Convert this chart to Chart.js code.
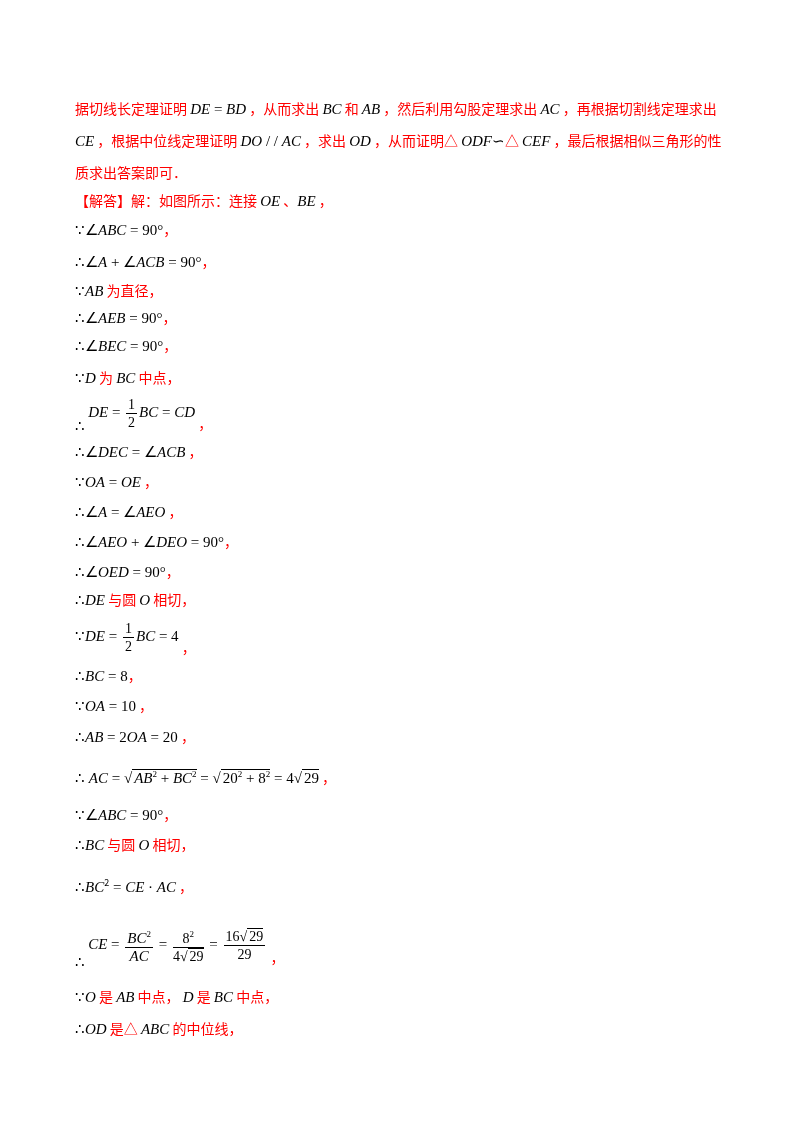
<!DOCTYPE html>
<html><head><meta charset="utf-8">
<script src="https://cdn.jsdelivr.net/npm/chart.js@4"></script>
<style>
body{margin:0;width:800px;height:1132px;background:#fff;position:relative;font-family:"Noto Sans CJK SC";font-size:14px;color:#f00;}
#c{position:absolute;left:0;top:0;}
.l{position:absolute;left:75px;white-space:nowrap;line-height:20px;}
i,.m{font-family:"Liberation Serif";color:#000;font-size:15px;}
i{font-style:italic}
.m{font-style:normal}
.fr{display:inline-block;vertical-align:middle;text-align:center;font-family:"Liberation Serif";color:#000;font-size:14px;line-height:17px;margin:0 2px}
.fr>span{display:block}
.fr>.n{border-bottom:1px solid #000;padding:0 2px}
sup{font-size:9px}
.sq{border-top:1px solid #000;padding-left:2px}
</style></head><body>
<canvas id="c" width="800" height="1132"></canvas>
<div class="l" style="top:98px">据切线长定理证明 <i>DE</i><span class="m"> = </span><i>BD</i> ，从而求出 <i>BC</i> 和 <i>AB</i> ，然后利用勾股定理求出 <i>AC</i> ，再根据切割线定理求出</div>
<div class="l" style="top:130px"><i>CE</i> ，根据中位线定理证明 <i>DO</i><span class="m"> / / </span><i>AC</i> ，求出 <i>OD</i> ，从而证明△ <i>ODF</i><span class="m">∽</span>△ <i>CEF</i> ，最后根据相似三角形的性</div>
<div class="l" style="top:162px">质求出答案即可．</div>
<div class="l" style="top:190px">【解答】解：如图所示：连接 <i>OE</i> 、<i>BE</i> ，</div>
<div class="l" style="top:219px"><span class="m">∵∠</span><i>ABC</i><span class="m"> = 90°</span>，</div>
<div class="l" style="top:251px"><span class="m">∴∠</span><i>A</i><span class="m"> + ∠</span><i>ACB</i><span class="m"> = 90°</span>，</div>
<div class="l" style="top:280px"><span class="m">∵</span><i>AB</i> 为直径，</div>
<div class="l" style="top:307px"><span class="m">∴∠</span><i>AEB</i><span class="m"> = 90°</span>，</div>
<div class="l" style="top:335px"><span class="m">∴∠</span><i>BEC</i><span class="m"> = 90°</span>，</div>
<div class="l" style="top:367px"><span class="m">∵</span><i>D</i> 为 <i>BC</i> 中点，</div>
<div class="l" style="top:396px"><span class="m" style="position:relative;top:14px">∴</span> <i>DE</i><span class="m"> = </span><span class="fr"><span class="n">1</span><span>2</span></span><i>BC</i><span class="m"> = </span><i>CD</i> <span style="position:relative;top:12px">，</span></div>
<div class="l" style="top:441px"><span class="m">∴∠</span><i>DEC</i><span class="m"> = ∠</span><i>ACB</i> ，</div>
<div class="l" style="top:471px"><span class="m">∵</span><i>OA</i><span class="m"> = </span><i>OE</i> ，</div>
<div class="l" style="top:501px"><span class="m">∴∠</span><i>A</i><span class="m"> = ∠</span><i>AEO</i> ，</div>
<div class="l" style="top:531px"><span class="m">∴∠</span><i>AEO</i><span class="m"> + ∠</span><i>DEO</i><span class="m"> = 90°</span>，</div>
<div class="l" style="top:561px"><span class="m">∴∠</span><i>OED</i><span class="m"> = 90°</span>，</div>
<div class="l" style="top:589px"><span class="m">∴</span><i>DE</i> 与圆 <i>O</i> 相切，</div>
<div class="l" style="top:620px"><span class="m">∵</span><i>DE</i><span class="m"> = </span><span class="fr"><span class="n">1</span><span>2</span></span><i>BC</i><span class="m"> = 4</span> <span style="position:relative;top:12px">，</span></div>
<div class="l" style="top:665px"><span class="m">∴</span><i>BC</i><span class="m"> = 8</span>，</div>
<div class="l" style="top:695px"><span class="m">∵</span><i>OA</i><span class="m"> = 10</span> ，</div>
<div class="l" style="top:726px"><span class="m">∴</span><i>AB</i><span class="m"> = 2</span><i>OA</i><span class="m"> = 20</span> ，</div>
<div class="l" style="top:764px"><span class="m">∴ </span><i>AC</i><span class="m"> = √<span class="sq"><i>AB</i><sup>2</sup> + <i>BC</i><sup>2</sup></span> = √<span class="sq">20<sup>2</sup> + 8<sup>2</sup></span> = 4√<span class="sq">29</span></span> ，</div>
<div class="l" style="top:804px"><span class="m">∵∠</span><i>ABC</i><span class="m"> = 90°</span>，</div>
<div class="l" style="top:834px"><span class="m">∴</span><i>BC</i> 与圆 <i>O</i> 相切，</div>
<div class="l" style="top:873px"><span class="m">∴</span><i>BC</i><sup style="color:#000">2</sup><span class="m"> = </span><i>CE</i><span class="m"> · </span><i>AC</i> ，</div>
<div class="l" style="top:926px"><span class="m" style="position:relative;top:18px">∴</span> <i>CE</i><span class="m"> = </span><span class="fr"><span class="n"><i>BC</i><sup>2</sup></span><span><i>AC</i></span></span><span class="m"> = </span><span class="fr"><span class="n">8<sup>2</sup></span><span>4√<span class="sq">29</span></span></span><span class="m"> = </span><span class="fr"><span class="n">16√<span class="sq">29</span></span><span>29</span></span> <span style="position:relative;top:14px">，</span></div>
<div class="l" style="top:986px"><span class="m">∵</span><i>O</i> 是 <i>AB</i> 中点， <i>D</i> 是 <i>BC</i> 中点，</div>
<div class="l" style="top:1018px"><span class="m">∴</span><i>OD</i> 是△ <i>ABC</i> 的中位线，</div>
<script>
const categories=[];const values=[];
new Chart(document.getElementById('c'),{type:'bar',data:{labels:categories,datasets:[{data:values}]},
options:{responsive:false,animation:false,plugins:{legend:{display:false},tooltip:{enabled:false}},scales:{x:{display:false},y:{display:false}}}});
</script>
</body></html>
